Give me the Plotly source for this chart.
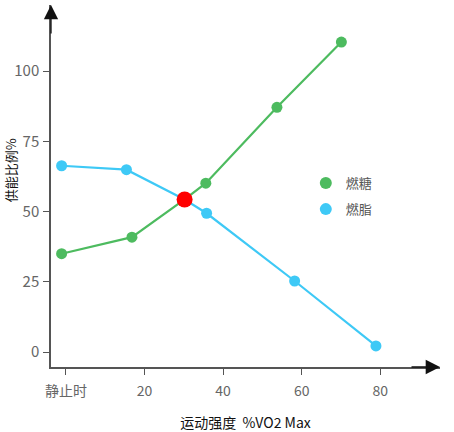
import plotly.graph_objects as go

# Data
x_sugar = [-1.1, 16.8, 30.2, 35.6, 53.7, 70.1]
y_sugar = [35.0, 40.9, 54.3, 60.1, 87.1, 110.3]
x_fat = [-1.1, 15.4, 30.2, 35.8, 58.2, 78.9]
y_fat = [66.3, 64.9, 54.3, 49.4, 25.3, 2.2]
x_cross = [30.2]
y_cross = [54.3]
x_tickvals = [0, 20, 40, 60, 80]
x_ticktext = ["静止时", "20", "40", "60", "80"]
y_tickvals = [0, 25, 50, 75, 100]

GREEN = "#4dbb5f"
BLUE = "#3ec9f6"
RED = "#ff0000"
FONT = "Noto Sans CJK SC"

fig = go.Figure()
fig.add_trace(go.Scatter(x=x_sugar, y=y_sugar, mode="lines+markers", name="燃糖",
                         line=dict(color=GREEN, width=2.2), marker=dict(color=GREEN, size=11),
                         showlegend=False))
fig.add_trace(go.Scatter(x=x_fat, y=y_fat, mode="lines+markers", name="燃脂",
                         line=dict(color=BLUE, width=2.2), marker=dict(color=BLUE, size=11),
                         showlegend=False))
fig.add_trace(go.Scatter(x=x_cross, y=y_cross, mode="markers", name="交叉点",
                         marker=dict(color=RED, size=16), showlegend=False))
# legend-only entries (markers only)
fig.add_trace(go.Scatter(x=[None], y=[None], mode="markers", name="燃糖",
                         marker=dict(color=GREEN, size=12), legend="legend"))
fig.add_trace(go.Scatter(x=[None], y=[None], mode="markers", name="燃脂",
                         marker=dict(color=BLUE, size=12), legend="legend2"))

fig.update_layout(
    width=454, height=432,
    margin=dict(l=51, r=14, t=5, b=65, autoexpand=False),
    plot_bgcolor="white", paper_bgcolor="white",
    font=dict(family=FONT, size=13, color="#666666"),
    legend=dict(x=0.655, y=0.508, xanchor="left", yanchor="middle",
                font=dict(size=13, color="#555555"), bgcolor="rgba(0,0,0,0)"),
    legend2=dict(x=0.655, y=0.436, xanchor="left", yanchor="middle",
                 font=dict(size=13, color="#555555"), bgcolor="rgba(0,0,0,0)"),
    xaxis=dict(range=[-3.8, 95.2], tickvals=x_tickvals, ticktext=x_ticktext,
               automargin=False,
               showgrid=False, zeroline=False, showline=True, linecolor="#555555",
               linewidth=1.5, ticks="outside", ticklen=6, tickcolor="#555555",
               ticklabelstandoff=4,
               tickfont=dict(size=14, color="#666666"),
               title=dict(text="运动强度  %VO2 Max", font=dict(size=14, color="#111111"),
                          standoff=24)),
    yaxis=dict(range=[-5.3, 123.5], tickvals=y_tickvals,
               automargin=False,
               showgrid=False, zeroline=False, showline=True, linecolor="#555555",
               linewidth=1.5, ticks="outside", ticklen=6, tickcolor="#555555",
               ticklabelstandoff=1,
               tickfont=dict(size=15, color="#666666")),
)

# Y-axis title
fig.add_annotation(xref="paper", yref="paper", x=-0.105, y=0.544,
                   xanchor="center", yanchor="middle", textangle=-90,
                   text="供能比例%", showarrow=False,
                   font=dict(size=13, color="#111111", family=FONT))

# Arrowheads on the axes
fig.add_annotation(xref="paper", yref="paper", x=1, y=0, ax=-30, ay=0,
                   showarrow=True, arrowhead=2, arrowsize=2.2, arrowwidth=1.3,
                   arrowcolor="#111111", text="")
fig.add_annotation(xref="paper", yref="paper", x=0, y=1, ax=0, ay=30,
                   showarrow=True, arrowhead=2, arrowsize=2.2, arrowwidth=1.3,
                   arrowcolor="#111111", text="")

fig.write_html("out.html", config={"displayModeBar": False},
               post_script="document.body.style.margin='0';document.body.style.overflow='hidden';")
